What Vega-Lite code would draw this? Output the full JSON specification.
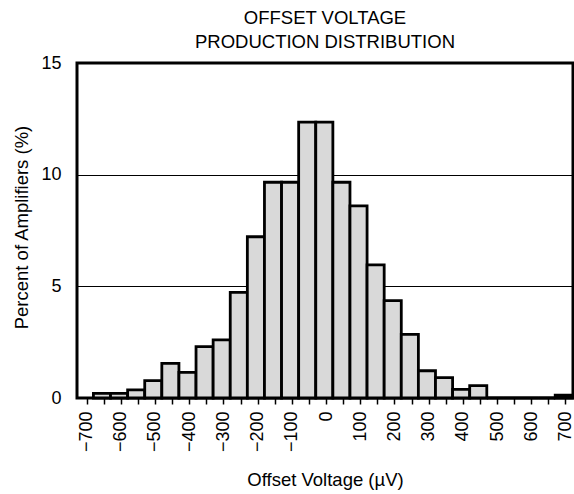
{
  "$schema": "https://vega.github.io/schema/vega-lite/v6.json",
  "autosize": {"type": "none"},
  "width": 496,
  "height": 335,
  "padding": {"left": 77, "top": 63, "right": 1, "bottom": 96},
  "background": "white",
  "config": {
    "font": "Liberation Sans",
    "view": {"stroke": "black", "strokeWidth": 3},
    "axis": {"labelColor": "black", "titleColor": "black", "labelFont": "Liberation Sans", "titleFont": "Liberation Sans", "titleFontWeight": "normal", "labelFontSize": 18, "titleFontSize": 18.5}
  },
  "title": {
    "text": ["OFFSET VOLTAGE", "PRODUCTION DISTRIBUTION"],
    "font": "Liberation Sans",
    "fontSize": 18.5,
    "fontWeight": "normal",
    "color": "black",
    "anchor": "middle",
    "frame": "group",
    "lineHeight": 24,
    "offset": 3
  },
  "data": {
    "values": [
      {"start": -680, "end": -630, "pct": 0.21},
      {"start": -630, "end": -580, "pct": 0.21},
      {"start": -580, "end": -530, "pct": 0.36},
      {"start": -530, "end": -480, "pct": 0.78},
      {"start": -480, "end": -430, "pct": 1.55},
      {"start": -430, "end": -380, "pct": 1.15},
      {"start": -380, "end": -330, "pct": 2.3},
      {"start": -330, "end": -280, "pct": 2.6},
      {"start": -280, "end": -230, "pct": 4.73},
      {"start": -230, "end": -180, "pct": 7.22},
      {"start": -180, "end": -130, "pct": 9.66},
      {"start": -130, "end": -80, "pct": 9.66},
      {"start": -80, "end": -30, "pct": 12.35},
      {"start": -30, "end": 20, "pct": 12.35},
      {"start": 20, "end": 70, "pct": 9.66},
      {"start": 70, "end": 120, "pct": 8.6},
      {"start": 120, "end": 170, "pct": 5.96},
      {"start": 170, "end": 220, "pct": 4.36},
      {"start": 220, "end": 270, "pct": 2.85},
      {"start": 270, "end": 320, "pct": 1.22},
      {"start": 320, "end": 370, "pct": 0.91},
      {"start": 370, "end": 420, "pct": 0.39},
      {"start": 420, "end": 470, "pct": 0.55},
      {"start": 470, "end": 520, "pct": 0},
      {"start": 520, "end": 570, "pct": 0},
      {"start": 570, "end": 620, "pct": 0},
      {"start": 620, "end": 670, "pct": 0},
      {"start": 670, "end": 720, "pct": 0.13}
    ]
  },
  "mark": {"type": "rect", "fill": "#d9d9d9", "stroke": "black", "strokeWidth": 2.8},
  "encoding": {
    "x": {
      "field": "start",
      "type": "quantitative",
      "scale": {"domain": [-728, 722], "nice": false, "zero": false},
      "axis": {
        "title": "Offset Voltage (µV)",
        "values": [-700, -650, -600, -550, -500, -450, -400, -350, -300, -250, -200, -150, -100, -50, 0, 50, 100, 150, 200, 250, 300, 350, 400, 450, 500, 550, 600, 650, 700],
        "labelExpr": "datum.value % 100 === 0 ? datum.label : ''",
        "labelAngle": -90,
        "labelPadding": 7,
        "labelFlush": false,
        "labelOverlap": false,
        "tickSize": 6,
        "tickWidth": 1.5,
        "tickColor": "black",
        "domain": false,
        "grid": false,
        "titleY": 87,
        "titleBaseline": "alphabetic"
      }
    },
    "x2": {"field": "end"},
    "y": {
      "field": "pct",
      "type": "quantitative",
      "scale": {"domain": [0, 15], "nice": false},
      "axis": {
        "title": "Percent of Amplifiers (%)",
        "values": [0, 5, 10, 15],
        "ticks": false,
        "domain": false,
        "grid": true,
        "gridColor": "black",
        "gridWidth": 1,
        "gridOpacity": 1,
        "labelPadding": 16,
        "titleX": -50,
        "titleY": 164,
        "titleBaseline": "alphabetic",
        "titleAlign": "center",
        "titleAngle": -90
      }
    },
    "y2": {"datum": 0}
  }
}
